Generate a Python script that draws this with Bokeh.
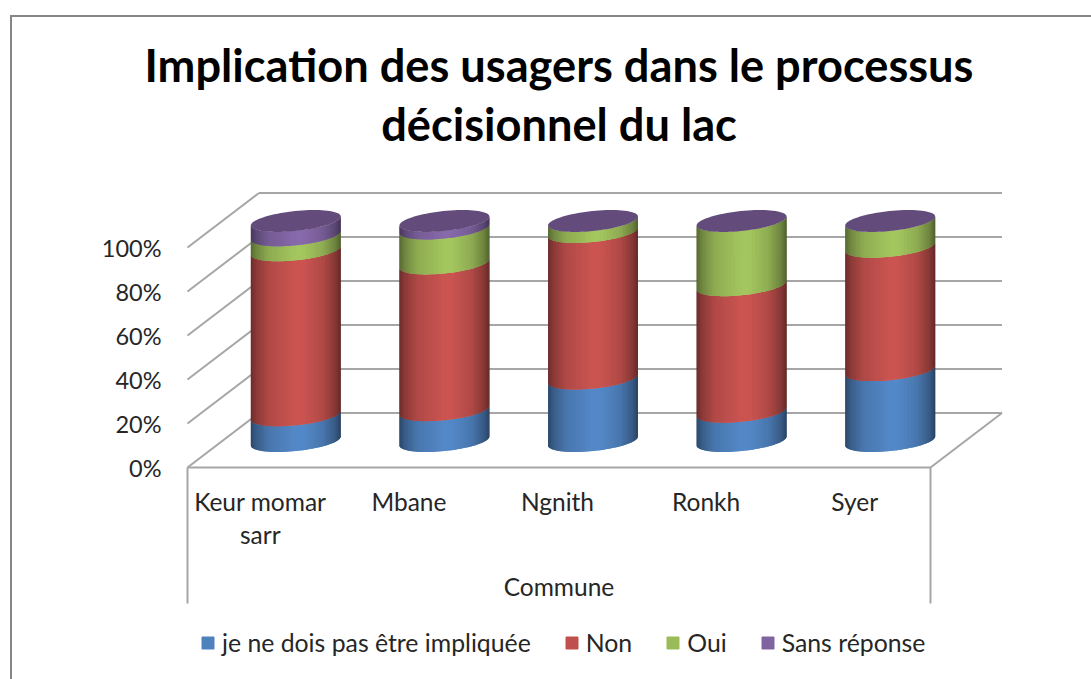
import numpy as np
from bokeh.plotting import figure
from bokeh.embed import file_html
from bokeh.resources import INLINE
from bokeh.models import (Range1d, LinearAxis, FixedTicker, PrintfTickFormatter, Legend, LegendItem, Title)

communes = ["Keur momar\nsarr", "Mbane", "Ngnith", "Ronkh", "Syer"]
series_names = ["je ne dois pas être impliquée", "Non", "Oui", "Sans réponse"]
impliquee = [11.7, 14.0, 28.4, 13.3, 32.2]
non = [75.0, 66.7, 66.6, 57.5, 56.1]
oui = [6.8, 15.9, 5.0, 29.2, 11.7]
sans_reponse = [6.5, 3.4, 0.0, 0.0, 0.0]
base_colors = ["#4F81BD", "#C0504D", "#9BBB59", "#8064A2"]
y_ticks = [0, 20, 40, 60, 80, 100]

# layout constants (page pixels)
FIG_L, FIG_T = 10, 15
FR_L, FR_R, FR_T, FR_B = 34, 1083, 150, 679
X0, SLOT = 187.0, 148.6
Y0, PXU = 467.0, 2.2

x_start = (FR_L - X0) / SLOT
x_end = (FR_R - X0) / SLOT
y_top = (Y0 - FR_T) / PXU
y_bot = (Y0 - FR_B) / PXU

p = figure(width=1081, height=664, output_backend="svg", toolbar_location=None,
           x_range=Range1d(x_start, x_end), y_range=Range1d(y_bot, y_top),
           frame_width=FR_R - FR_L, frame_height=FR_B - FR_T,
           x_axis_type=None, y_axis_type=None, min_border_left=22, min_border_right=8,
           min_border_top=FR_T - FIG_T - 2, min_border_bottom=0, outline_line_color=None,
           margin=(FIG_T, 0, 0, FIG_L))
p.styles = {"border-top": "2px solid #868686", "border-left": "2px solid #868686", "box-sizing": "border-box"}
p.grid.visible = False

FONT = "Lato"
TXT = "#262626"
GRID = "#A6A6A6"
p.add_layout(Title(text="décisionnel du lac", align="center", text_font=FONT, text_font_size="45.2px",
                   text_font_style="bold", text_color="#000000", text_line_height=1.0, standoff=0), "above")
p.add_layout(Title(text="Implication des usagers dans le processus", align="center", text_font=FONT,
                   text_font_size="45.2px", text_font_style="bold", text_color="#000000",
                   text_line_height=1.0, standoff=3), "above")

DEPTH_X = 71.5 / SLOT        # floor depth in slot units
DEPTH_Y = 54.5 / PXU         # floor depth in percent units

# walls and floor
for t in y_ticks:
    p.segment(x0=[0], y0=[t], x1=[DEPTH_X], y1=[t + DEPTH_Y], line_color=GRID, line_width=2)
    p.segment(x0=[DEPTH_X], y0=[t + DEPTH_Y], x1=[5 + DEPTH_X], y1=[t + DEPTH_Y], line_color=GRID, line_width=2)
p.segment(x0=[5], y0=[0], x1=[5 + DEPTH_X], y1=[DEPTH_Y], line_color=GRID, line_width=2)
p.segment(x0=[0, 5], y0=[0, 0], x1=[0, 5], y1=[-61.8, -61.8], line_color=GRID, line_width=2)

# cylinders
R_X = 45.0 / SLOT
TILT = 4.5 / PXU
R_Y = 10.0 / PXU
CX_OFF = 34.0 / SLOT
CY_OFF = 26.5 / PXU
shade_u = [0.0, 0.06, 0.2, 0.5, 0.58, 0.8, 0.94, 1.0]
shade_f = [0.56, 0.72, 0.92, 1.06, 1.06, 0.92, 0.7, 0.52]


def rgb(col, f):
    c = [int(col[i:i + 2], 16) for i in (1, 3, 5)]
    return "#%02x%02x%02x" % tuple(min(255, int(v * f)) for v in c)


def rim(d):
    # d in [-1, 1] across the cylinder: offset of the front rim from its centre level
    return d * TILT - R_Y * np.sqrt(max(0.0, 1 - d * d))


ds = np.sin(np.linspace(-np.pi / 2, np.pi / 2, 41))
series = [impliquee, non, oui, sans_reponse]
legend_renderers = []
for s_i, vals in enumerate(series):
    xs, ys, cols = [], [], []
    for c_i in range(5):
        if vals[c_i] <= 0:
            continue
        bottom = sum(series[k][c_i] for k in range(s_i))
        top = bottom + vals[c_i]
        cx = c_i + 0.5 + CX_OFF
        for i in range(len(ds) - 1):
            da, dm, db = ds[i], ds[i + 1], ds[min(i + 2, len(ds) - 1)]
            dd = [da, dm, db]
            lo = [bottom + CY_OFF + rim(d) for d in dd]
            hi = [top + CY_OFF + rim(d) for d in dd]
            xx = [cx + d * R_X for d in dd]
            xs.append(xx + xx[::-1])
            ys.append(lo + hi[::-1])
            cols.append(rgb(base_colors[s_i], float(np.interp((da + dm + 2) / 4, shade_u, shade_f))))
    p.patches(xs, ys, fill_color=cols, line_color=None)
    # a flat swatch renderer for the legend
    sw = p.patches([[]], [[]], fill_color=base_colors[s_i], line_color=base_colors[s_i])
    legend_renderers.append(sw)

# top caps
th = np.linspace(0, 2 * np.pi, 80)
cap_x, cap_y = [], []
for c_i in range(5):
    total = sum(s[c_i] for s in series)
    cx = c_i + 0.5 + CX_OFF
    cap_x.append(list(cx + R_X * np.cos(th)))
    cap_y.append(list(total + CY_OFF + TILT * np.cos(th) + R_Y * np.sin(th)))
p.patches(cap_x, cap_y, fill_color="#634C7C", line_color=None)

# axes
yax = LinearAxis(fixed_location=0, ticker=FixedTicker(ticks=y_ticks), formatter=PrintfTickFormatter(format="%d%%"),
                 axis_line_color=None, major_tick_line_color=None, minor_tick_line_color=None,
                 major_label_text_font=FONT, major_label_text_font_size="23.5px", major_label_text_color=TXT,
                 major_label_standoff=20)
p.add_layout(yax, "left")
xax = LinearAxis(fixed_location=0, ticker=FixedTicker(ticks=[i + 0.49 for i in range(5)]),
                 major_label_overrides={i + 0.49: c for i, c in enumerate(communes)},
                 bounds=(0, 5), axis_line_color=GRID, axis_line_width=2,
                 major_tick_line_color=None, minor_tick_line_color=None,
                 major_label_text_font=FONT, major_label_text_font_size="24.5px", major_label_text_color=TXT,
                 major_label_text_line_height=1.17, major_label_standoff=13,
                 axis_label="Commune", axis_label_text_font=FONT, axis_label_text_font_size="24.5px",
                 axis_label_text_font_style="normal", axis_label_text_color=TXT, axis_label_standoff=20)
p.add_layout(xax, "below")

legend = Legend(items=[LegendItem(label=n, renderers=[r]) for n, r in zip(series_names, legend_renderers)],
                orientation="horizontal", location=(166, 22), background_fill_alpha=0, border_line_color=None,
                glyph_width=15, glyph_height=15, label_standoff=7, spacing=33, margin=0, padding=0,
                label_text_font=FONT, label_text_font_size="24.8px", label_text_color=TXT)
p.add_layout(legend, "center")

open("out.html", "w").write(file_html(p, INLINE))
